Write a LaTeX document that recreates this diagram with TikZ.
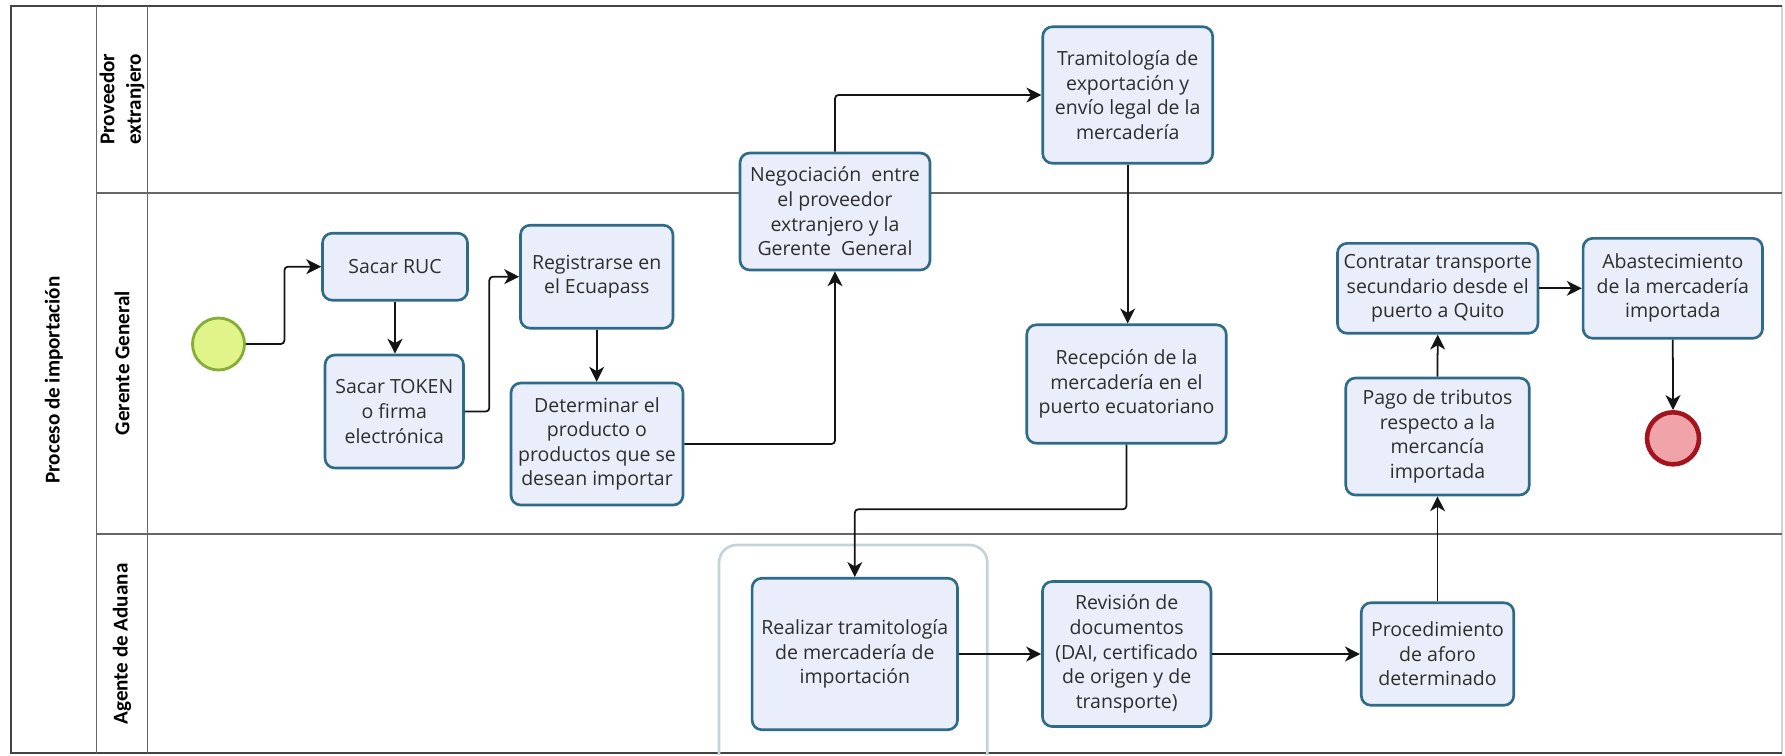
\documentclass[tikz,border=0pt]{standalone}
\usepackage{fontspec}
\setmainfont{Open Sans}
\newfontfamily\lanefont{Carlito}
\usetikzlibrary{arrows.meta}

\definecolor{taskfill}{HTML}{E9EEFA}
\definecolor{taskdraw}{HTML}{2E6B89}
\definecolor{lanegray}{HTML}{666666}
\definecolor{framegray}{HTML}{444444}
\definecolor{startfill}{HTML}{E1F48A}
\definecolor{startdraw}{HTML}{84AE38}
\definecolor{endfill}{HTML}{F0A3A8}
\definecolor{enddraw}{HTML}{A3141F}
\definecolor{groupdraw}{HTML}{C4D3DA}
\definecolor{txt}{HTML}{2E2E2E}

\begin{document}
\begin{tikzpicture}[x=0.02cm, y=-0.02cm,
  task/.style={draw=taskdraw, fill=taskfill, line width=1.5pt, rounded corners=5.5pt,
    inner sep=0pt, align=center, text=txt, font=\fontsize{11.1}{14}\selectfont},
  flow/.style={draw=black!92, line width=1pt, rounded corners=2pt,
    -{Stealth[length=8.5pt,width=8.5pt,inset=2.5pt]}},
  lanelabel/.style={rotate=90, align=center, inner sep=0pt,
    font=\lanefont\bfseries\fontsize{12}{15}\selectfont},
  laneline/.style={draw=lanegray, line width=0.9pt},
  startevent/.style={circle, draw=startdraw, fill=startfill, line width=1.6pt,
    minimum size=1.04cm, inner sep=0pt},
  endevent/.style={circle, draw=enddraw, fill=endfill, line width=2.6pt,
    minimum size=1.04cm, inner sep=0pt},
  groupbox/.style={draw=groupdraw, line width=1.5pt, rounded corners=10pt}
]
\useasboundingbox (0,0) rectangle (1785,755);

% pool and lanes
\draw[laneline, draw=lightgray!70] (1782,6) -- (1782,753);
\draw[draw=framegray, line width=0.9pt] (1782,6) -- (11,6) -- (11,753) -- (1782,753);
\draw[laneline] (96.5,6) -- (96.5,753);
\draw[laneline] (147.5,6) -- (147.5,753);
\draw[laneline] (96.5,193) -- (1782,193);
\draw[laneline] (96.5,534) -- (1782,534);

\node[lanelabel] (pool) at (54,380) {Proceso de importación};
\node[lanelabel] (laneA) at (122,99) {Proveedor\\extranjero};
\node[lanelabel] (laneB) at (122,363) {Gerente General};
\node[lanelabel] (laneC) at (122,644) {Agente de Aduana};

% group frame around the customs task
\draw[groupbox] (719,755) -- (719,545) -- (987.3,545) -- (987.3,755);

% events
\node[startevent] (start) at (218.5,344) {};
\node[endevent] (end) at (1673,438.3) {};

% tasks
\node[task, minimum width=2.90cm, minimum height=1.34cm] (ruc) at (395,266.7) {Sacar RUC};
\node[task, minimum width=2.77cm, minimum height=2.26cm] (tok) at (394.3,411.5) {Sacar TOKEN\\o firma\\electrónica};
\node[task, minimum width=3.05cm, minimum height=2.06cm] (reg) at (596.7,276.7) {Registrarse en\\el Ecuapass};
\node[task, minimum width=3.44cm, minimum height=2.44cm] (det) at (597,444) {Determinar el\\producto o\\productos que se\\desean importar};
\node[task, minimum width=3.80cm, minimum height=2.34cm] (neg) at (835,211.5) {Negociación\ \ entre\\el proveedor\\extranjero y la\\Gerente\ \ General};
\node[task, minimum width=3.40cm, minimum height=2.73cm] (tram) at (1127.7,95) {Tramitología de\\exportación y\\envío legal de la\\mercadería};
\node[task, minimum width=3.99cm, minimum height=2.37cm] (rec) at (1126.5,384) {Recepción de la\\mercadería en el\\puerto ecuatoriano};
\node[task, minimum width=4.11cm, minimum height=3.03cm] (real) at (854.8,654) {Realizar tramitología\\de mercadería de\\importación};
\node[task, minimum width=3.37cm, minimum height=2.90cm] (rev) at (1126.7,654) {Revisión de\\documentos\\(DAI, certificado\\de origen y de\\transporte)};
\node[task, minimum width=3.05cm, minimum height=2.05cm] (proc) at (1437.5,654) {Procedimiento\\de aforo\\determinado};
\node[task, minimum width=3.67cm, minimum height=2.34cm] (pago) at (1437.5,436.5) {Pago de tributos\\respecto a la\\mercancía\\importada};
\node[task, minimum width=4.01cm, minimum height=1.80cm] (contr) at (1437.7,288.3) {Contratar transporte\\secundario desde el\\puerto a Quito};
\node[task, minimum width=3.59cm, minimum height=2.00cm] (abast) at (1672.8,288.3) {Abastecimiento\\de la mercadería\\importada};

% sequence flows
\draw[flow] (start.east) -- ++(38.5,0) |- (ruc.west);
\draw[flow] (ruc.south) -- (ruc.south |- tok.north);
\draw[flow] (tok.east) -- ++(24.5,0) |- (reg.west);
\draw[flow] (reg.south) -- (reg.south |- det.north);
\draw[flow] (det.east) -| (neg.south);
\draw[flow] (neg.north) |- (tram.west);
\draw[flow] (tram.south) -- (tram.south |- rec.north);
\draw[flow] (rec.south) -- ++(0,64.7) -| (real.north);
\draw[flow] (real.east) -- (rev.west);
\draw[flow] (rev.east) -- (proc.west);
\draw[flow] (proc.north) -- (pago.south);
\draw[flow] (pago.north) -- (contr.south);
\draw[flow] (contr.east) -- (abast.west);
\draw[flow] (abast.south) -- (end.north);
\end{tikzpicture}
\end{document}
